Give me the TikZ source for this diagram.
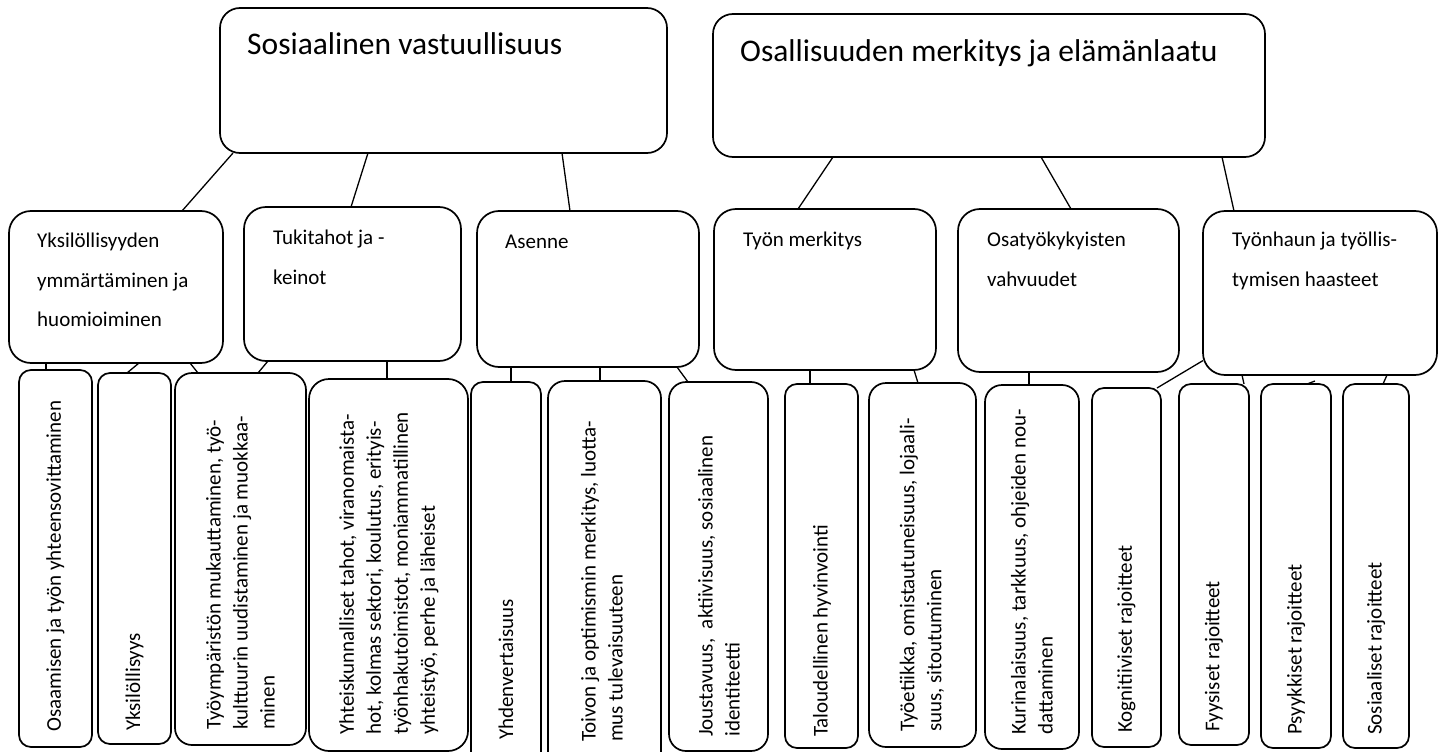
\documentclass[tikz,border=0pt]{standalone}
\usepackage{fontspec}
\setmainfont{Carlito}
\begin{document}
\begin{tikzpicture}[x=1pt,y=-1pt,
  box/.style={draw=black, line width=1.7pt, fill=white, inner sep=0pt, outer sep=0pt},
  conn/.style={draw=black, line width=1.3pt},
  toptext/.style={anchor=base west, inner sep=0pt, font=\fontsize{31.5}{38}\selectfont},
  midtext/.style={anchor=north west, inner sep=0pt, align=left, font=\fontsize{21}{39.5}\selectfont},
  vtext/.style={rotate=90, anchor=west, align=left, inner sep=0pt, font=\fontsize{21}{27}\selectfont}]
\useasboundingbox (0,0) rectangle (1443,752);
\fill[white] (0,0) rectangle (1443,752);
\newcommand\bx[6]{\node[box, rounded corners=#6, minimum width={#4-#2}, minimum height={#5-#3}] (#1) at ({(#2+#4)/2},{(#3+#5)/2}) {};}
% top boxes
\bx{t1}{220}{8}{667}{153}{20pt}
\bx{t2}{713}{14}{1265}{157}{20pt}
% middle boxes
\bx{mA}{9}{211}{223}{363}{22pt}
\bx{mB}{244}{207}{461}{361}{22pt}
\bx{mC}{477}{211}{699}{367}{22pt}
\bx{mD}{714}{209}{936}{370}{22pt}
\bx{mE}{958}{209}{1179}{372}{22pt}
\bx{mF}{1203}{211}{1437}{375}{22pt}
% bottom boxes
\bx{b1}{19}{370}{92}{747}{12pt}
\bx{b2}{98}{373}{171}{744}{12pt}
\bx{b3}{175}{373}{306}{745}{17pt}
\bx{b4}{309}{379}{468}{751}{20pt}
\bx{b5}{471}{382}{541}{770}{12pt}
\bx{b6}{548}{381}{661}{770}{17pt}
\bx{b7}{669}{382}{768}{751}{17pt}
\bx{b8}{785}{384}{858}{748}{12pt}
\bx{b9}{869}{383}{976}{747}{17pt}
\bx{b10}{985}{385}{1079}{749}{17pt}
\bx{b11}{1092}{388}{1161}{747}{12pt}
\bx{b12}{1179}{384}{1249}{745}{12pt}
\bx{b13}{1261}{384}{1331}{748}{12pt}
\bx{b14}{1343}{384}{1409}{748}{12pt}
% connectors
\draw[conn] (t1.south -| 233,0) -- (mA.north -| 182,0);
\draw[conn] (t1.south -| 368,0) -- (mB.north -| 351,0);
\draw[conn] (t1.south -| 562,0) -- (mC.north -| 570,0);
\draw[conn] (t2.south -| 833,0) -- (mD.north -| 798,0);
\draw[conn] (t2.south -| 1041,0) -- (mE.north -| 1071,0);
\draw[conn] (t2.south -| 1222,0) -- (mF.north -| 1234,0);
\draw[conn] (mA.south -| 46,0) -- (b1.north -| 46,0);
\draw[conn] (mA.south -| 139,0) -- (b2.north -| 127,0);
\draw[conn] (mA.south -| 190,0) -- (b3.north -| 198,0);
\draw[conn] (mB.south -| 268,0) -- (b3.north -| 258,0);
\draw[conn] (mB.south -| 387,0) -- (b4.north -| 387,0);
\draw[conn] (mC.south -| 511,0) -- (b5.north -| 511,0);
\draw[conn] (mC.south -| 600,0) -- (b6.north -| 600,0);
\draw[conn] (mC.south -| 677,0) -- (b7.north -| 688,0);
\draw[conn] (mD.south -| 810,0) -- (b8.north -| 810,0);
\draw[conn] (mD.south -| 914,0) -- (b9.north -| 918,0);
\draw[conn] (mE.south -| 1029,0) -- (b10.north -| 1029,0);
\draw[conn] (mF.-150) -- (b11.north -| 1157,0);
\draw[conn] (mF.south -| 1242,0) -- (b12.north -| 1244,0);
\coordinate (stub) at (1315,381);
\draw[conn] (b13.north -| 1307,0) -- (stub);
\draw[conn] (mF.south -| 1387,0) -- (b14.north -| 1383,0);
% top texts
\node[toptext] (tt1) at (247,55) {Sosiaalinen vastuullisuus};
\node[toptext] (tt2) at (740,62) {Osallisuuden merkitys ja elämänlaatu};
% middle texts
\node[midtext] (ta) at (37,220) {\strut Yksilöllisyyden\\ymmärtäminen ja\\huomioiminen};
\node[midtext] (tb) at (273,217) {\strut Tukitahot ja -\\keinot};
\node[midtext] (tc) at (505,221) {\strut Asenne};
\node[midtext] (td) at (743,219) {\strut Työn merkitys};
\node[midtext] (te) at (987,219) {\strut Osatyökykyisten\\vahvuudet};
\node[midtext] (tf) at (1232,219) {\strut Työnhaun ja työllis-\\tymisen haasteet};
% vertical texts
\node[vtext] (v1) at (55.5,732) {Osaamisen ja työn yhteensovittaminen};
\node[vtext] (v2) at (134.5,731) {Yksilöllisyys};
\node[vtext] (v3) at (240.5,730) {Työympäristön mukauttaminen, työ-\\kulttuurin uudistaminen ja muokkaa-\\minen};
\node[vtext] (v4) at (389,735) {Yhteiskunnalliset tahot, viranomaista-\\hot, kolmas sektori, koulutus, erityis-\\työnhakutoimistot, moniammatillinen\\yhteistyö, perhe ja läheiset};
\node[vtext] (v5) at (506,740) {Yhdenvertaisuus};
\node[vtext] (v6) at (602,742) {Toivon ja optimismin merkitys, luotta-\\mus tulevaisuuteen};
\node[vtext] (v7) at (719,737) {Joustavuus,~ aktiivisuus, sosiaalinen\\identiteetti};
\node[vtext] (v8) at (822,737) {Taloudellinen hyvinvointi};
\node[vtext] (v9) at (922,732) {Työetiikka, omistautuneisuus, lojaali-\\suus, sitoutuminen};
\node[vtext] (v10) at (1032,735) {Kurinalaisuus, tarkkuus, ohjeiden nou-\\dattaminen};
\node[vtext] (v11) at (1126.5,733) {Kognitiiviset rajoitteet};
\node[vtext] (v12) at (1214,732) {Fyysiset rajoitteet};
\node[vtext] (v13) at (1296,735) {Psyykkiset rajoitteet};
\node[vtext] (v14) at (1376,735) {Sosiaaliset rajoitteet};
\end{tikzpicture}
\end{document}
